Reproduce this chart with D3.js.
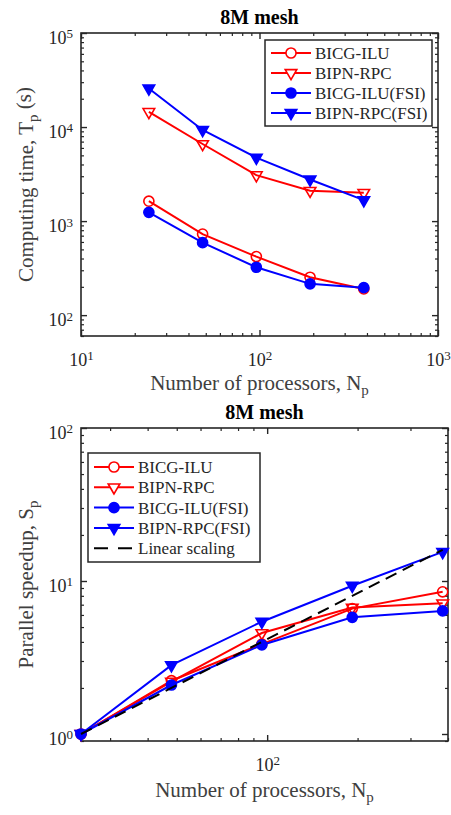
<!DOCTYPE html>
<html>
<head>
<meta charset="utf-8">
<script src="https://cdn.jsdelivr.net/npm/d3@7"></script>
<style>
  body { margin: 0; background: #fff; }
  text { font-family: "Liberation Serif", "Times New Roman", serif; fill: #262626; }
</style>
</head>
<body>
<svg id="chart"></svg>
<script>
// processor counts
const procs = [24, 48, 96, 192, 384]

// computing time T_p (s)
const timeBicgIlu = [1630, 728, 419, 253, 190]
const timeBipnRpc = [14500, 6600, 3080, 2100, 2000]
const timeBicgIluFsi = [1240, 590, 323, 215, 196]
const timeBipnRpcFsi = [25700, 9300, 4730, 2770, 1670]

// parallel speedup S_p
const speedBicgIlu = [1, 2.23, 3.87, 6.6, 8.5]
const speedBipnRpc = [1, 2.2, 4.57, 6.7, 7.15]
const speedBicgIluFsi = [1, 2.09, 3.82, 5.79, 6.37]
const speedBipnRpcFsi = [1, 2.82, 5.42, 9.31, 15.5]
const linearScaling = [1, 2, 4, 8, 16]

const seriesNames = ['BICG-ILU', 'BIPN-RPC', 'BICG-ILU(FSI)', 'BIPN-RPC(FSI)', 'Linear scaling']

const topXTicks = [10, 100, 1000]
const topYTicks = [100, 1000, 10000, 100000]
const bottomXTicks = [100]
const bottomYTicks = [1, 10, 100]

const RED = '#ff0000', BLUE = '#0000ff', AXIS = '#262626'

const styles = [
  {color: RED, shape: 'circle', filled: false},
  {color: RED, shape: 'tri', filled: false},
  {color: BLUE, shape: 'circle', filled: true},
  {color: BLUE, shape: 'tri', filled: true},
  {color: '#000', shape: null, dashed: true}
]

const svg = d3.select('#chart').attr('width', 451).attr('height', 815)

function minorTicks(domain) {
  let out = []
  let lo = Math.floor(Math.log10(domain[0])), hi = Math.ceil(Math.log10(domain[1]))
  for (let e = lo; e <= hi; e++) {
    for (let m = 2; m <= 9; m++) {
      let v = m * Math.pow(10, e)
      if (v >= domain[0] && v <= domain[1]) out.push(v)
    }
  }
  return out
}

function powerLabels(g) {
  g.selectAll('.tick text').each(function(d) {
    let t = d3.select(this)
    t.text('10')
    t.append('tspan')
      .attr('dy', '-0.45em')
      .attr('font-size', '13px')
      .text(Math.round(Math.log10(d)))
  })
}

function markerPath(shape) {
  if (shape === 'circle') return d3.symbol(d3.symbolCircle, 80)()
  return d3.symbol(d3.symbolTriangle, 58)()
}

function drawPanel(cfg) {
  let x = d3.scaleLog().domain(cfg.xDomain).range([cfg.left, cfg.right])
  let y = d3.scaleLog().domain(cfg.yDomain).range([cfg.bottom, cfg.top])
  let g = svg.append('g')

  // minor ticks on all four sides
  let xm = minorTicks(cfg.xDomain), ym = minorTicks(cfg.yDomain)
  let sides = [
    [d3.axisBottom(x), `translate(0,${cfg.bottom})`, xm],
    [d3.axisTop(x), `translate(0,${cfg.top})`, xm],
    [d3.axisLeft(y), `translate(${cfg.left},0)`, ym],
    [d3.axisRight(y), `translate(${cfg.right},0)`, ym]
  ]
  sides.forEach(([ax, tr, vals]) => {
    g.append('g').attr('transform', tr)
      .call(ax.tickValues(vals).tickSizeInner(-3).tickSizeOuter(0).tickFormat(''))
      .call(a => a.select('.domain').remove())
      .call(a => a.selectAll('line').attr('stroke', AXIS).attr('stroke-width', 1.2))
  })

  // major ticks
  let xb = g.append('g').attr('transform', `translate(0,${cfg.bottom})`)
    .call(d3.axisBottom(x).tickValues(cfg.xTicks).tickSizeInner(-6).tickSizeOuter(0).tickPadding(17))
  let xt = g.append('g').attr('transform', `translate(0,${cfg.top})`)
    .call(d3.axisTop(x).tickValues(cfg.xTicks).tickSizeInner(-6).tickSizeOuter(0).tickFormat(''))
  let yl = g.append('g').attr('transform', `translate(${cfg.left},0)`)
    .call(d3.axisLeft(y).tickValues(cfg.yTicks).tickSizeInner(-6).tickSizeOuter(0).tickPadding(8))
  let yr = g.append('g').attr('transform', `translate(${cfg.right},0)`)
    .call(d3.axisRight(y).tickValues(cfg.yTicks).tickSizeInner(-6).tickSizeOuter(0).tickFormat(''))
  ;[xb, xt, yl, yr].forEach(a => {
    a.select('.domain').remove()
    a.selectAll('line').attr('stroke', AXIS).attr('stroke-width', 1.4)
    a.selectAll('text').attr('font-size', 18).attr('fill', '#404040')
  })
  yl.selectAll('.tick text').attr('dy', '0.6em')
  powerLabels(xb)
  powerLabels(yl)

  // box
  g.append('rect')
    .attr('x', cfg.left).attr('y', cfg.top)
    .attr('width', cfg.right - cfg.left).attr('height', cfg.bottom - cfg.top)
    .attr('fill', 'none').attr('stroke', AXIS).attr('stroke-width', 1.6)

  // series
  let line = d3.line().x((d, i) => x(procs[i])).y(d => y(d))
  cfg.series.forEach((vals, k) => {
    let st = styles[k]
    g.append('path')
      .attr('d', line(vals))
      .attr('fill', 'none')
      .attr('stroke', st.color)
      .attr('stroke-width', 2)
      .attr('stroke-dasharray', st.dashed ? '12,7' : null)
    if (!st.shape) return
    g.selectAll(null)
      .data(vals)
      .join('path')
        .attr('d', markerPath(st.shape))
        .attr('transform', (d, i) => `translate(${x(procs[i])},${y(d)})` + (st.shape === 'tri' ? ' rotate(180)' : ''))
        .attr('fill', st.filled ? st.color : 'none')
        .attr('stroke', st.color)
        .attr('stroke-width', 1.6)
  })

  // title
  g.append('text')
    .attr('x', (cfg.left + cfg.right) / 2).attr('y', cfg.titleY)
    .attr('text-anchor', 'middle')
    .attr('font-size', 20).attr('font-weight', 'bold')
    .style('fill', '#000')
    .text('8M mesh')

  // x label
  let xl = g.append('text')
    .attr('x', (cfg.left + cfg.right) / 2).attr('y', cfg.xLabelY)
    .attr('text-anchor', 'middle')
    .attr('font-size', 21).style('fill', '#404040')
    .text('Number of processors, N')
  xl.append('tspan').attr('dy', '0.35em').attr('font-size', 15).text('p')

  // y label
  let ylab = g.append('text')
    .attr('transform', `translate(${cfg.yLabelX},${(cfg.top + cfg.bottom) / 2}) rotate(-90)`)
    .attr('text-anchor', 'middle')
    .attr('font-size', 21).style('fill', '#404040')
    .text(cfg.yLabel[0])
  ylab.append('tspan').attr('dy', '0.35em').attr('font-size', 15).text('p')
  if (cfg.yLabel[1]) ylab.append('tspan').attr('dy', '-0.35em').text(cfg.yLabel[1])

  // legend
  let lg = cfg.legend
  let n = cfg.series.length
  g.append('rect')
    .attr('x', lg.x).attr('y', lg.y).attr('width', lg.w).attr('height', lg.h)
    .attr('fill', '#fff').attr('stroke', AXIS).attr('stroke-width', 1.5)
  for (let k = 0; k < n; k++) {
    let st = styles[k]
    let cy = lg.y + lg.first + k * lg.step
    g.append('line')
      .attr('x1', lg.x + 6).attr('x2', lg.x + 46).attr('y1', cy).attr('y2', cy)
      .attr('stroke', st.color).attr('stroke-width', 2)
      .attr('stroke-dasharray', st.dashed ? '14,10' : null)
    if (st.shape) {
      g.append('path')
        .attr('d', markerPath(st.shape))
        .attr('transform', `translate(${lg.x + 26},${cy})` + (st.shape === 'tri' ? ' rotate(180)' : ''))
        .attr('fill', st.filled ? st.color : '#fff')
        .attr('stroke', st.color).attr('stroke-width', 1.6)
    }
    g.append('text')
      .attr('x', lg.x + 50).attr('y', cy).attr('dy', '0.35em')
      .attr('font-size', 17)
      .text(seriesNames[k])
  }
}

drawPanel({
  left: 81, right: 438, top: 33, bottom: 336,
  xDomain: [10, 1000], yDomain: [60, 100000],
  xTicks: topXTicks, yTicks: topYTicks,
  series: [timeBicgIlu, timeBipnRpc, timeBicgIluFsi, timeBipnRpcFsi],
  titleY: 24, xLabelY: 390, yLabelX: 33,
  yLabel: ['Computing time, T', ' (s)'],
  legend: {x: 265, y: 40, w: 167, h: 86, first: 13, step: 20}
})

drawPanel({
  left: 81, right: 448, top: 428, bottom: 741,
  xDomain: [24, 400], yDomain: [0.9, 100],
  xTicks: bottomXTicks, yTicks: bottomYTicks,
  series: [speedBicgIlu, speedBipnRpc, speedBicgIluFsi, speedBipnRpcFsi, linearScaling],
  titleY: 419, xLabelY: 797, yLabelX: 33,
  yLabel: ['Parallel speedup, S', null],
  legend: {x: 88, y: 453, w: 172, h: 109, first: 14, step: 20.3}
})
</script>
</body>
</html>
